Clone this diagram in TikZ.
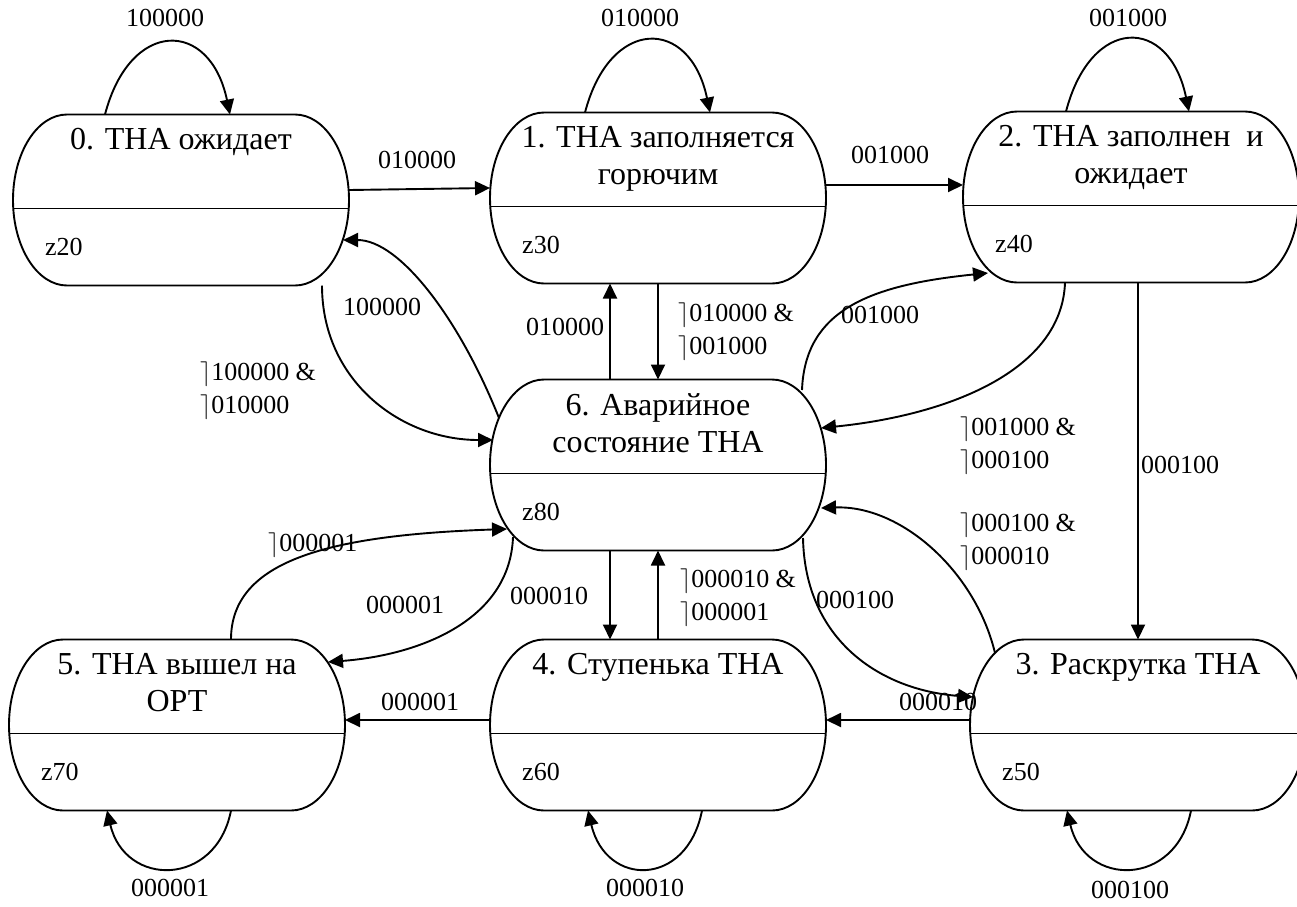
\documentclass[tikz,border=0pt]{standalone}
\usepackage{fontspec}
\setmainfont{Liberation Serif}
\usepackage{tikz}
\usetikzlibrary{arrows.meta}

% one state: name, position, title, output
\newcommand{\tnastate}[4]{%
	\node[stbox] (#1) at (#2) {};
	\draw[stline] ([xshift=54pt]#1.north west) -- ([xshift=-54pt]#1.north east)
		arc[start angle=90, end angle=-90, x radius=54pt, y radius=85.5pt]
		-- ([xshift=54pt]#1.south west)
		arc[start angle=270, end angle=90, x radius=54pt, y radius=85.5pt] -- cycle;
	\draw[stline] ([yshift=-94pt]#1.north west) -- ([yshift=-94pt]#1.north east);
	\node[sttitle] (#1t) at ([yshift=-14pt]#1.north) {#3};
	\node[stz] (#1z) at ([xshift=32pt,yshift=30pt]#1.south west) {#4};
}

\begin{document}
\begin{tikzpicture}[x=1pt, y=1pt,
	stbox/.style={minimum width=336pt, minimum height=171pt, inner sep=0pt, outer sep=0pt},
	stline/.style={line width=1.9pt},
	sttitle/.style={anchor=north, align=center, inner sep=0pt, font=\fontsize{32}{37}\selectfont},
	stz/.style={anchor=base west, inner sep=0pt, font=\fontsize{26}{33}\selectfont},
	tr/.style={line width=1.9pt, -{Triangle[length=15pt, width=14pt]}},
	lbl/.style={inner sep=0pt, font=\fontsize{26}{33}\selectfont},
	cond/.style={lbl, anchor=north west, align=left}]
		\useasboundingbox (0,0) rectangle (1297,-906);

		\tnastate{s0}{181,-200}{0. ТНА ожидает}{z20}
		\tnastate{s1}{658,-198}{1. ТНА заполняется\\горючим}{z30}
		\tnastate{s2}{1131,-197}{2. ТНА заполнен~ и\\ожидает}{z40}
		\tnastate{s6}{658,-465}{6. Аварийное\\состояние ТНА}{z80}
		\tnastate{s5}{177,-725}{5. ТНА вышел на\\ОРТ}{z70}
		\tnastate{s4}{658,-725}{4. Ступенька ТНА}{z60}
		\tnastate{s3}{1138,-725}{3. Раскрутка ТНА}{z50}

		% loops
		\draw[tr] ([xshift=-76pt]s0.north) .. controls +(25,96) and +(-20,96) .. ([xshift=49pt]s0.north);
		\draw[tr] ([xshift=-73pt]s1.north) .. controls +(25,96) and +(-20,96) .. ([xshift=52pt]s1.north);
		\draw[tr] ([xshift=-65pt]s2.north) .. controls +(25,96) and +(-20,96) .. ([xshift=58pt]s2.north);
		\draw[tr] ([xshift=54pt]s5.south) .. controls +(-15,-77) and +(18,-77) .. ([xshift=-70pt]s5.south);
		\draw[tr] ([xshift=44pt]s4.south) .. controls +(-15,-77) and +(18,-77) .. ([xshift=-70pt]s4.south);
		\draw[tr] ([xshift=53pt]s3.south) .. controls +(-15,-77) and +(18,-77) .. ([xshift=-71pt]s3.south);

		% straight transitions
		\draw[tr] ([yshift=10pt]s0.east) -- ([yshift=10pt]s1.west);
		\draw[tr] ([yshift=13pt]s1.east) -- ([yshift=12pt]s2.west);
		\draw[tr] ([xshift=-48pt]s6.north) -- ([xshift=-48pt]s1.south);
		\draw[tr] (s1.south) -- (s6.north);
		\draw[tr] ([xshift=7pt]s2.south) -- (s3.north);
		\draw[tr] ([xshift=-48pt]s6.south) -- ([xshift=-48pt]s4.north);
		\draw[tr] (s4.north) -- (s6.south);
		\draw[tr] ([yshift=5pt]s3.west) -- ([yshift=5pt]s4.east);
		\draw[tr] ([yshift=5pt]s4.west) -- ([yshift=5pt]s5.east);

		% curved transitions
		\draw[tr] ([xshift=9pt,yshift=47pt]s6.west) .. controls (460,-320) and (400,-240) .. ([xshift=-6pt,yshift=-40pt]s0.east);
		\draw[tr] ([xshift=141pt]s0.south) .. controls (322,-380) and (400,-440) .. ([xshift=3pt,yshift=25pt]s6.west);
		\draw[tr] ([xshift=-24pt,yshift=75pt]s6.east) .. controls (805,-310) and (870,-285) .. ([xshift=25pt,yshift=-76pt]s2.west);
		\draw[tr] ([xshift=-66pt]s2.south) .. controls (1062,-370) and (950,-415) .. ([xshift=-5pt,yshift=37pt]s6.east);
		\draw[tr] ([xshift=25pt,yshift=72pt]s3.west) .. controls (975,-570) and (900,-505) .. ([xshift=-5pt,yshift=-43pt]s6.east);
		\draw[tr] ([xshift=-23pt,yshift=-73pt]s6.east) .. controls (805,-640) and (880,-690) .. ([xshift=3pt,yshift=28pt]s3.west);
		\draw[tr] ([xshift=54pt]s5.north) .. controls (231,-560) and (330,-535) .. ([xshift=17pt,yshift=-64pt]s6.west);
		\draw[tr] ([xshift=23pt,yshift=-72pt]s6.west) .. controls (510,-620) and (420,-655) .. ([xshift=-17pt,yshift=63pt]s5.east);

		% labels
		\node[lbl] (l00) at (165,-18) {100000};
		\node[lbl] (l11) at (640,-18) {010000};
		\node[lbl] (l22) at (1128,-18) {001000};
		\node[lbl] (l01) at (417,-160) {010000};
		\node[lbl] (l12) at (890,-155) {001000};
		\node[lbl] (l60) at (382,-307) {100000};
		\node[cond] (c06) at (200,-362) {$\rceil$100000 \&\\$\rceil$010000};
		\node[lbl] (l61) at (565,-327) {010000};
		\node[cond] (c16) at (678,-303) {$\rceil$010000 \&\\$\rceil$001000};
		\node[lbl] (l62) at (880,-315) {001000};
		\node[cond] (c26) at (960,-417) {$\rceil$001000 \&\\$\rceil$000100};
		\node[lbl] (l23) at (1180,-465) {000100};
		\node[cond] (c36) at (960,-513) {$\rceil$000100 \&\\$\rceil$000010};
		\node[lbl] (l63) at (855,-600) {000100};
		\node[cond] (c46) at (680,-569) {$\rceil$000010 \&\\$\rceil$000001};
		\node[lbl] (l64) at (549,-596) {000010};
		\node[cond] (c56) at (268,-533) {$\rceil$000001};
		\node[lbl] (l65) at (405,-605) {000001};
		\node[lbl] (l34) at (938,-702) {000010};
		\node[lbl] (l45) at (420,-702) {000001};
		\node[lbl] (l55) at (170,-888) {000001};
		\node[lbl] (l44) at (645,-888) {000010};
		\node[lbl] (l33) at (1130,-890) {000100};
\end{tikzpicture}
\end{document}
